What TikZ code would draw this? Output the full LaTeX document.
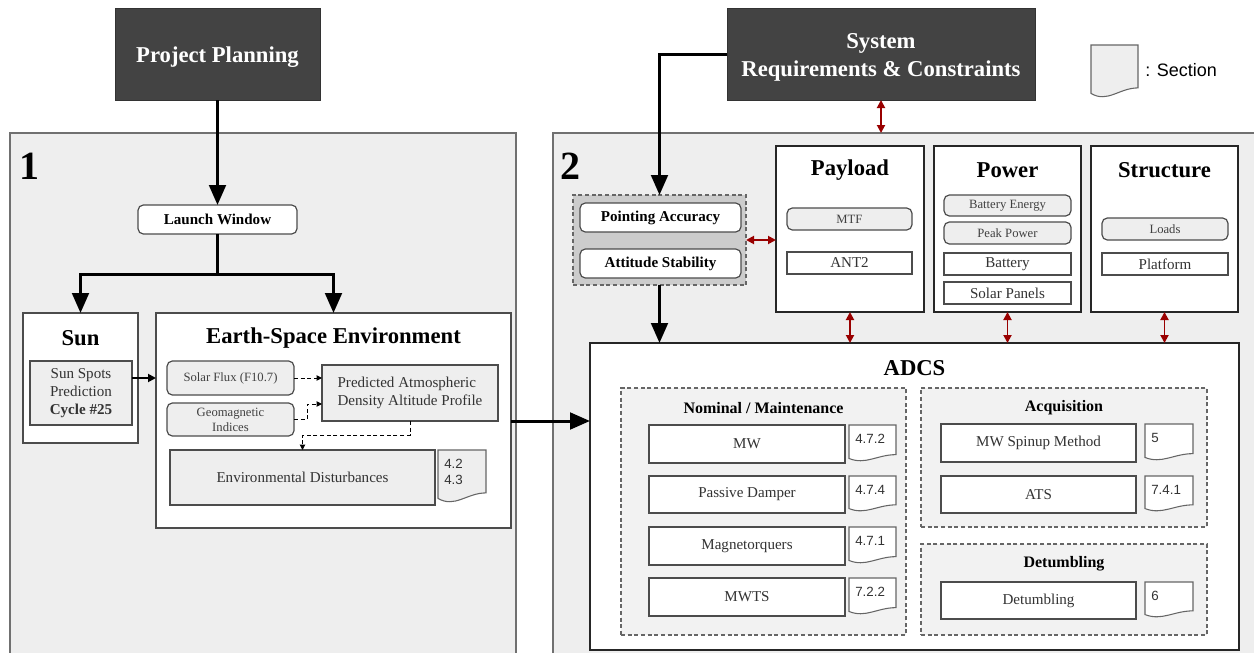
\documentclass[tikz,border=0pt]{standalone}
\usepackage{fontspec}
\setmainfont{Liberation Serif}
\newfontfamily\arialf{Liberation Sans}
\usetikzlibrary{arrows.meta,calc}
\definecolor{darkboxc}{HTML}{434343}
\definecolor{panelfill}{HTML}{EEEEEE}
\definecolor{redarr}{HTML}{990000}
\definecolor{bordergray}{HTML}{707070}
\definecolor{groupgray}{HTML}{CCCCCC}
\definecolor{lightfill}{HTML}{F2F2F2}
\newcommand\fz[2]{\fontsize{#1pt}{#2pt}\selectfont}
% box by corners: style, name, x1, y1, x2, y2, text
\newcommand\bx[7]{%
  \node[#1, minimum width={(#5-#3)*0.75pt}, minimum height={(#6-#4)*0.75pt}]
    (#2) at ({(#3+#5)/2},{(#4+#6)/2}) {#7};}
% document (section) shape: name, x1, y1, x2, y2, fill, text
\newcommand\docsec[7]{%
  \path[docline, fill=#6] (#2,#3) -- (#4,#3) -- (#4,{#5-0.22*(#5-#3)})
    .. controls ({#2+0.6*(#4-#2)},{#5-0.22*(#5-#3)}) and ({#2+0.35*(#4-#2)},{#5+0.06*(#5-#3)}) ..
    (#2,{#5-0.12*(#5-#3)}) -- cycle;
  \node[secnum] (#1) at (#2+6,#3+9) {#7};}
\begin{document}
\begin{tikzpicture}[x=0.75pt,y=-0.75pt,
  fitbox/.style={inner sep=0pt, outer sep=0pt},
  panel/.style={fitbox, draw=bordergray, fill=panelfill, line width=1.1pt},
  darkbox/.style={fitbox, draw=black!80, fill=darkboxc},
  darktext/.style={text=white, font=\bfseries\fz{17}{21}, align=center, inner sep=0pt},
  sec/.style={fitbox, draw=black!70, fill=white, line width=1.1pt},
  subsys/.style={fitbox, draw=black!85, fill=white, line width=1.6pt},
  rgray/.style={fitbox, rounded corners=4pt, draw=black!70, fill=panelfill, line width=0.9pt, font=\fz{9.5}{11.3}, text=black!75, align=center},
  rwhite/.style={fitbox, rounded corners=4pt, draw=black!70, fill=white, line width=0.9pt, font=\bfseries\fz{11.3}{13}},
  item/.style={fitbox, draw=black!70, fill=white, line width=0.9pt, font=\fz{11.3}{13.5}, text=black!80, align=center},
  gitem/.style={item, fill=panelfill},
  grp/.style={fitbox, draw=black!60, fill=lightfill, line width=0.9pt, dash pattern=on 3pt off 2pt},
  ttl/.style={font=\bfseries\fz{17}{20}, inner sep=0pt},
  gttl/.style={font=\bfseries\fz{12}{14}, inner sep=0pt},
  num/.style={font=\bfseries\fz{30}{32}, inner sep=0pt},
  bigarrow/.style={line width=2.25pt, -{Triangle[length=15pt,width=12.5pt]}},
  smallarrow/.style={line width=1.4pt, -{Triangle[length=6pt,width=6pt]}},
  dasharrow/.style={line width=0.7pt, dash pattern=on 3pt off 2pt, -{Triangle[length=4pt,width=4pt]}},
  redarrow/.style={draw=redarr, line width=1.4pt, {Triangle[length=6pt,width=6pt]}-{Triangle[length=6pt,width=6pt]}},
  docline/.style={draw=black!60, line width=0.8pt},
  secnum/.style={font=\arialf\fz{10}{12}, text=black!80, anchor=north west, inner sep=0pt, align=left}
]
\clip (0,0) rectangle (1254,653);
\fill[white] (0,0) rectangle (1254,653);

% panels
\bx{panel}{p1}{10}{133}{516}{665}{}
\bx{panel}{p2}{553}{133}{1265}{665}{}
\node[num] (n1) at (30,166) {1};
\node[num] (n2) at (570,166) {2};

% top dark boxes
\bx{darkbox}{pp}{115}{8}{320}{100}{}
\node[darktext] (ppt) at ($(pp.center)+(0,3)$) {Project Planning};
\bx{darkbox}{sr}{727}{8}{1035}{100}{}
\node[darktext] (srt) at ($(sr.center)+(0,3)$) {System\\Requirements \& Constraints};

% legend
\docsec{lg}{1091}{45}{1138}{100}{panelfill}{}
\node[font=\arialf\fz{13.5}{16}, anchor=west, inner sep=0pt] (lgt) at (1145,70) {: Section};

% ---- panel 1 ----
\bx{rwhite}{lw}{138}{205}{297}{234}{Launch Window}
\bx{sec}{sun}{23}{313}{138}{443}{}
\node[ttl] (suntl) at (80.5,338) {Sun};
\bx{gitem}{spots}{30}{361}{132}{425}{Sun Spots\\Prediction\\\textbf{Cycle \#25}}

\bx{sec}{ese}{156}{313}{511}{528}{}
\node[ttl] (esetl) at (333.5,338) {Earth-Space Environment};
\bx{rgray}{sf}{167}{361}{294}{395}{Solar Flux (F10.7)}
\bx{rgray}{gm}{167}{403}{294}{436}{Geomagnetic\\Indices}
\bx{gitem, align=left}{pad}{322}{365}{498}{421}{Predicted Atmospheric\\Density Altitude Profile}
\bx{gitem}{ed}{170}{450}{435}{505}{Environmental Disturbances}
\docsec{eds}{438}{450}{486}{505}{panelfill}{4.2\\4.3}

\coordinate (j1) at (218,274);
\draw[bigarrow] (pp.south) -- (lw.north);
\draw[bigarrow] (lw.south) |- (sun.north |- j1) -- (sun.north);
\draw[bigarrow] (j1) -| (ese.north);
\draw[smallarrow] (spots.east |- sf.west) -- (ese.west |- sf.west);
\draw[dasharrow] (sf.east) -- (pad.west |- sf.east);
\draw[dasharrow] (gm.east) -| (307,404) -- (pad.west |- 0,404);
\draw[dasharrow] (pad.south) -- ++(0,14) -| (ed.north);

% ---- panel 2 ----
\bx{grp, fill=groupgray}{pg}{573}{195}{746}{285}{}
\bx{rwhite}{pa}{580}{203}{741}{232}{Pointing Accuracy}
\bx{rwhite}{as}{580}{249}{741}{278}{Attitude Stability}

\bx{subsys}{pay}{776}{146}{924}{312}{}
\node[ttl] (paytl) at (850,170) {Payload};
\bx{rgray}{mtf}{787}{208}{912}{230}{MTF}
\bx{item}{ant}{787}{252}{912}{274}{ANT2}

\bx{subsys}{pow}{934}{146}{1081}{312}{}
\node[ttl] (powtl) at (1007.5,170) {Power};
\bx{rgray}{be}{944}{195}{1071}{216}{Battery Energy}
\bx{rgray}{pk}{944}{222}{1071}{244}{Peak Power}
\bx{item}{bat}{944}{253}{1071}{275}{Battery}
\bx{item}{spn}{944}{282}{1071}{304}{Solar Panels}

\bx{subsys}{str}{1091}{146}{1238}{312}{}
\node[ttl] (strtl) at (1164.5,170) {Structure};
\bx{rgray}{ld}{1102}{218}{1228}{240}{Loads}
\bx{item}{pf}{1102}{253}{1228}{275}{Platform}

\bx{subsys}{adcs}{590}{343}{1239}{650}{}
\node[ttl] (adcstl) at (914.5,368) {ADCS};

\bx{grp}{nm}{621}{388}{906}{635}{}
\node[gttl] (nmtl) at (763.5,408) {Nominal / Maintenance};
\bx{item}{mw}{649}{425}{845}{463}{MW}
\docsec{s1}{849}{425}{896}{463}{white}{4.7.2}
\bx{item}{pd}{649}{476}{845}{513}{Passive Damper}
\docsec{s2}{849}{476}{896}{513}{white}{4.7.4}
\bx{item}{mq}{649}{527}{845}{565}{Magnetorquers}
\docsec{s3}{849}{527}{896}{565}{white}{4.7.1}
\bx{item}{mwts}{649}{578}{845}{616}{MWTS}
\docsec{s4}{849}{578}{896}{616}{white}{7.2.2}

\bx{grp}{acq}{921}{388}{1207}{527}{}
\node[gttl] (acqtl) at (1064,408) {Acquisition};
\bx{item}{mws}{941}{424}{1136}{462}{MW Spinup Method}
\docsec{s5}{1145}{424}{1193}{462}{white}{5}
\bx{item}{ats}{941}{476}{1136}{513}{ATS}
\docsec{s6}{1145}{476}{1193}{513}{white}{7.4.1}

\bx{grp}{det}{921}{544}{1207}{635}{}
\node[gttl] (dettl) at (1064,564) {Detumbling};
\bx{item}{dt}{941}{582}{1136}{619}{Detumbling}
\docsec{s7}{1145}{582}{1193}{619}{white}{6}

% connectors panel 2
\draw[bigarrow] (sr.west) -| (pg.north);
\draw[bigarrow] (pg.south) -- (adcs.north -| pg.south);
\draw[bigarrow] (ese.east |- 0,421) -- (adcs.west |- 0,421);
\draw[redarrow] (sr.south) -- (sr.south |- p2.north);
\draw[redarrow] (pg.east) -- (pay.west |- pg.east);
\draw[redarrow] (pay.south) -- (pay.south |- adcs.north);
\draw[redarrow] (pow.south) -- (pow.south |- adcs.north);
\draw[redarrow] (str.south) -- (str.south |- adcs.north);
\end{tikzpicture}
\end{document}
